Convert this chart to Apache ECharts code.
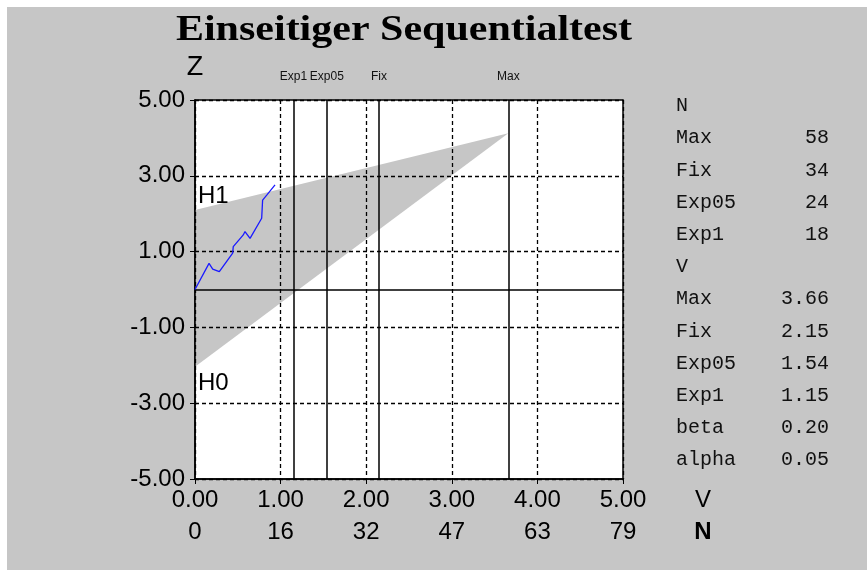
<!DOCTYPE html>
<html><head><meta charset="utf-8">
<script src="https://cdn.jsdelivr.net/npm/echarts@6/dist/echarts.min.js"></script>
<style>html,body{margin:0;padding:0;background:#fff}#c{width:867px;height:570px}</style>
</head><body><div id="c"></div>
<script>
const title = 'Einseitiger Sequentialtest';
const vTickLabels = ['0.00','1.00','2.00','3.00','4.00','5.00'];
const nTickLabels = ['0','16','32','47','63','79'];
const zTickLabels = ['-5.00','-3.00','-1.00','1.00','3.00','5.00'];
const pathV = [0, 0.164, 0.207, 0.284, 0.44, 0.447, 0.564, 0.584, 0.643, 0.779, 0.79, 0.838, 0.935];
const pathZ = [0, 0.69, 0.54, 0.47, 0.96, 1.13, 1.44, 1.53, 1.35, 1.88, 2.36, 2.49, 2.76];
const markerNames = ['Exp1','Exp05','Fix','Max'];
const markerV = [1.15, 1.54, 2.15, 3.66];
const regionV = [0, 3.66];
const upperZ = [2.10, 4.12];
const lowerZ = [-2.04, 4.12];
const tableLabels = ['N','Max','Fix','Exp05','Exp1','V','Max','Fix','Exp05','Exp1','beta','alpha'];
const tableValues = ['','58','34','24','18','','3.66','2.15','1.54','1.15','0.20','0.05'];

const GREY = '#c6c6c6';
const SANS = 'Liberation Sans';
const chart = echarts.init(document.getElementById('c'), null, {renderer:'canvas'});

const graphics = [
  {type:'rect', shape:{x:7, y:7, width:860, height:563}, style:{fill:GREY}, z:-10, silent:true},
  {type:'text', x:404, y:31, scaleX:1.2, style:{text:title, font:'bold 35px "Liberation Serif"', fill:'#000', textAlign:'center', textVerticalAlign:'middle'}},
  {type:'text', x:195, y:68, style:{text:'Z', font:'27px "Liberation Sans"', fill:'#000', textAlign:'center', textVerticalAlign:'middle'}},
  {type:'text', x:198, y:196, style:{text:'H1', font:'24px "Liberation Sans"', fill:'#000', textAlign:'left', textVerticalAlign:'middle'}, z:10},
  {type:'text', x:198, y:383, style:{text:'H0', font:'24px "Liberation Sans"', fill:'#000', textAlign:'left', textVerticalAlign:'middle'}, z:10},
  {type:'text', x:703, y:500, style:{text:'V', font:'24px "Liberation Sans"', fill:'#000', textAlign:'center', textVerticalAlign:'middle'}},
  {type:'text', x:703, y:532, style:{text:'N', font:'bold 24px "Liberation Sans"', fill:'#000', textAlign:'center', textVerticalAlign:'middle'}}
];
tableLabels.forEach((t, i) => {
  const y = 106 + i * 32.2;
  graphics.push({type:'text', x:676, y:y, style:{text:t, font:'20px "Liberation Mono"', fill:'#111', textAlign:'left', textVerticalAlign:'middle'}});
  if (tableValues[i]) graphics.push({type:'text', x:829, y:y, style:{text:tableValues[i], font:'20px "Liberation Mono"', fill:'#111', textAlign:'right', textVerticalAlign:'middle'}});
});

const dashed = {show:true, lineStyle:{color:'#000', type:[4,3], width:1.3}};

const option = {
  animation:false,
  backgroundColor:'#fff',
  graphic: graphics,
  grid:{left:195, top:100, width:428, height:379, show:true, backgroundColor:'#fff', borderColor:'#000', borderWidth:1.5},
  xAxis:[
    {type:'value', min:0, max:5, interval:1, z:3,
     axisLine:{show:true, onZero:false, lineStyle:{color:'#000', width:1.5}},
     axisTick:{show:true, length:5, lineStyle:{color:'#000'}},
     axisLabel:{fontSize:24, fontFamily:SANS, color:'#000', margin:9, formatter:v => vTickLabels[Math.round(v)]},
     splitLine: dashed},
    {type:'value', min:0, max:5, interval:1, position:'bottom', offset:0,
     axisLine:{show:false}, axisTick:{show:false}, splitLine:{show:false},
     axisLabel:{fontSize:24, fontFamily:SANS, color:'#000', margin:41, formatter:v => nTickLabels[Math.round(v)]}}
  ],
  yAxis:{type:'value', min:-5, max:5, interval:2, z:3,
     axisLine:{show:true, onZero:false, lineStyle:{color:'#000', width:1.5}},
     axisTick:{show:true, length:5, lineStyle:{color:'#000'}},
     axisLabel:{fontSize:24, fontFamily:SANS, color:'#000', margin:10, formatter:v => zTickLabels[Math.round((v + 5) / 2)]},
     splitLine: dashed},
  series:[
    {type:'custom', z:1, silent:true, data:[[0,0]],
     renderItem:(params, api) => {
       const pts = [];
       for (let i = 0; i < regionV.length; i++) pts.push(api.coord([regionV[i], upperZ[i]]));
       for (let i = regionV.length - 1; i >= 0; i--) pts.push(api.coord([regionV[i], lowerZ[i]]));
       return {type:'polygon', shape:{points:pts}, style:{fill:GREY}};
     }},
    {type:'line', z:4, silent:true, data:[],
     markLine:{symbol:'none', silent:true, animation:false,
       lineStyle:{color:'#000', type:'solid', width:1.5},
       label:{show:true, position:'end', formatter:p => p.name, fontSize:12, fontFamily:SANS, color:'#111', distance:17},
       data: markerV.map((v, i) => ({name:markerNames[i], xAxis:v})).concat([{name:'', yAxis:0, label:{show:false}}])}},
    {type:'line', z:5, silent:true, symbol:'none', data: pathV.map((v, i) => [v, pathZ[i]]),
     lineStyle:{color:'#1a1aff', width:1.3}}
  ]
};
chart.setOption(option);
</script></body></html>
